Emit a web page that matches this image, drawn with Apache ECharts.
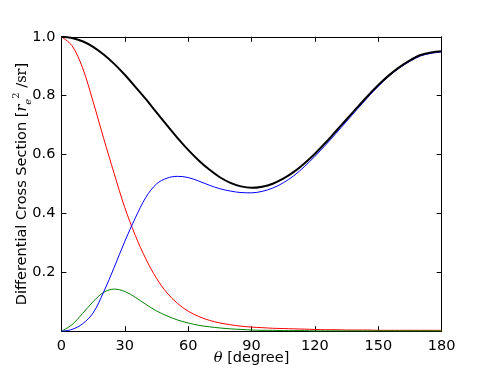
<!DOCTYPE html>
<html>
<head>
<meta charset="utf-8">
<script src="https://cdn.jsdelivr.net/npm/echarts@6/dist/echarts.min.js"></script>
<style>
  html, body { margin: 0; padding: 0; background: #fff; }
  #main { width: 491px; height: 368px; }
</style>
</head>
<body>
<div id="main"></div>
<script>
// scattering angle, degrees
var theta = [0, 5, 10, 15, 20, 25, 30, 35, 40, 45, 50, 55, 60, 65, 70, 75, 80, 85, 90,
  95, 100, 105, 110, 115, 120, 125, 130, 135, 140, 145, 150, 155, 160, 165, 170, 175, 180];

// total (black)
var total = [1.000, 0.996, 0.985, 0.966, 0.940, 0.908, 0.871, 0.830, 0.788, 0.743, 0.699, 0.656, 0.616,
  0.580, 0.549, 0.523, 0.504, 0.492, 0.487, 0.491, 0.501, 0.518, 0.541, 0.570, 0.603, 0.640, 0.680,
  0.720, 0.760, 0.799, 0.836, 0.869, 0.897, 0.920, 0.938, 0.947, 0.951];

// blue
var incoherent = [0.000, 0.006, 0.025, 0.062, 0.133, 0.217, 0.305, 0.385, 0.455, 0.500, 0.520, 0.526, 0.522,
  0.510, 0.496, 0.484, 0.476, 0.471, 0.470, 0.475, 0.486, 0.504, 0.528, 0.559, 0.594, 0.632, 0.672,
  0.713, 0.754, 0.794, 0.832, 0.866, 0.894, 0.917, 0.935, 0.944, 0.948];

// red
var coherent = [1.000, 0.970, 0.895, 0.780, 0.655, 0.535, 0.420, 0.325, 0.245, 0.180, 0.130, 0.094, 0.068,
  0.050, 0.037, 0.028, 0.022, 0.017, 0.014, 0.012, 0.010, 0.009, 0.008, 0.007, 0.006, 0.005, 0.005,
  0.004, 0.004, 0.004, 0.003, 0.003, 0.003, 0.003, 0.003, 0.003, 0.003];

// green
var other = [0.000, 0.022, 0.060, 0.100, 0.132, 0.143, 0.135, 0.115, 0.091, 0.069, 0.052, 0.038, 0.028,
  0.020, 0.015, 0.011, 0.008, 0.006, 0.004, 0.003, 0.003, 0.002, 0.002, 0.002, 0.001, 0.001, 0.001,
  0.001, 0.001, 0.001, 0.001, 0.001, 0.001, 0.001, 0.001, 0.001, 0.001];

var xTicks = [0, 30, 60, 90, 120, 150, 180];
var yTicks = [0.2, 0.4, 0.6, 0.8, 1.0];

function pairs(ys) {
  return theta.map(function (t, i) { return [t, ys[i]]; });
}

var font = 'DejaVu Sans';
var chart = echarts.init(document.getElementById('main'));

// frame axes: ticks point inward on every side
var frameX = {
  type: 'value', min: 0, max: 180, interval: 30,
  axisLine: { show: true, onZero: false, lineStyle: { color: '#000', width: 1 } },
  axisTick: { show: true, inside: true, length: 5, lineStyle: { color: '#000' } },
  splitLine: { show: false }
};
var frameY = {
  type: 'value', min: 0, max: 1, interval: 0.2,
  axisLine: { show: true, onZero: false, lineStyle: { color: '#000', width: 1 } },
  axisTick: { show: true, inside: true, length: 5, lineStyle: { color: '#000' } },
  splitLine: { show: false }
};

function line(name, ys, color, width, z) {
  return {
    name: name, type: 'line', data: pairs(ys), showSymbol: false, smooth: 0.35, z: z,
    lineStyle: { color: color, width: width }
  };
}

var option = {
  animation: false,
  backgroundColor: '#fff',
  grid: { left: 61.4, right: 49.3, top: 36.8, bottom: 36.8, outerBoundsMode: 'none', containLabel: false },
  xAxis: [
    Object.assign({}, frameX, {
      position: 'bottom',
      axisLabel: {
        color: '#000', fontFamily: font, fontSize: 14.5, margin: 8,
        formatter: function (v) { return xTicks.indexOf(v) >= 0 ? String(v) : ''; }
      },
      name: '{i|θ} [degree]',
      nameLocation: 'middle',
      nameGap: 20,
      nameMoveOverlap: false,
      nameTextStyle: {
        color: '#000', fontFamily: font, fontSize: 14.5,
        rich: { i: { fontFamily: 'DejaVu Serif', fontStyle: 'italic', fontSize: 14.5, color: '#000' } }
      }
    }),
    Object.assign({}, frameX, { position: 'top', axisLabel: { show: false } })
  ],
  yAxis: [
    Object.assign({}, frameY, {
      position: 'left',
      axisLabel: {
        color: '#000', fontFamily: font, fontSize: 14.5, margin: 6,
        formatter: function (v) {
          var r = Math.round(v * 10) / 10;
          return yTicks.indexOf(r) >= 0 ? r.toFixed(1) : '';
        }
      },
      name: '{a|Differential Cross Section [}{r|r}{sub|e}{sup|2}{a| /}{s|sr}{a|]}',
      nameLocation: 'middle',
      nameRotate: 90,
      nameGap: 28,
      nameMoveOverlap: false,
      nameTextStyle: {
        color: '#000', fontFamily: font, fontSize: 14.5,
        rich: {
          a: { fontFamily: font, fontSize: 14.5, color: '#000', lineHeight: 22, verticalAlign: 'middle' },
          r: { fontFamily: 'DejaVu Serif', fontStyle: 'italic', fontSize: 14.5, color: '#000', verticalAlign: 'middle' },
          sub: { fontFamily: 'DejaVu Serif', fontStyle: 'italic', fontSize: 10, color: '#000', verticalAlign: 'bottom' },
          sup: { fontFamily: 'DejaVu Serif', fontSize: 10, color: '#000', verticalAlign: 'top' },
          s: { fontFamily: 'DejaVu Serif', fontSize: 14.5, color: '#000', verticalAlign: 'middle' }
        }
      }
    }),
    Object.assign({}, frameY, { position: 'right', axisLabel: { show: false } })
  ],
  series: [
    line('coherent', coherent, '#ff0000', 1, 2),
    line('incoherent', incoherent, '#0000ff', 1, 3),
    line('other', other, '#008000', 1, 2),
    line('total', total, '#000000', 2, 4)
  ]
};

chart.setOption(option);
window.addEventListener('resize', function () {
  chart.resize();
});
</script>
</body>
</html>
